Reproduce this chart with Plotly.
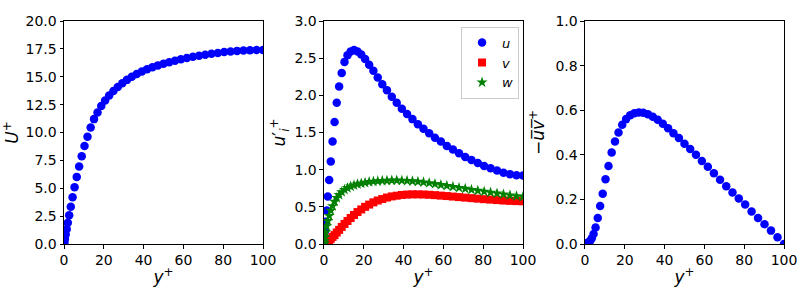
import plotly.graph_objects as go
from plotly.subplots import make_subplots

# wall-normal positions y+ of the profile points
y_plus = [0.0, 0.05, 0.21, 0.48, 0.86, 1.34, 1.92, 2.61, 3.41, 4.31,
          5.31, 6.41, 7.61, 8.91, 10.31, 11.81, 13.40, 15.08, 16.85, 18.72,
          20.66, 22.70, 24.82, 27.01, 29.29, 31.64, 34.07, 36.56, 39.12, 41.75,
          44.44, 47.19, 50.00, 52.86, 55.77, 58.73, 61.73, 64.78, 67.86, 70.97,
          74.12, 77.29, 80.49, 83.71, 86.95, 90.20, 93.46, 96.73, 100.0]

# mean velocity U+
U_plus = [0.0, 0.05, 0.21, 0.48, 0.85, 1.33, 1.90, 2.58, 3.35, 4.20,
          5.10, 6.02, 6.95, 7.88, 8.78, 9.62, 10.45, 11.20, 11.80, 12.38,
          12.88, 13.32, 13.72, 14.08, 14.42, 14.72, 15.00, 15.25, 15.47, 15.67,
          15.85, 16.02, 16.17, 16.31, 16.44, 16.56, 16.68, 16.79, 16.89, 16.98,
          17.07, 17.14, 17.21, 17.27, 17.32, 17.36, 17.38, 17.40, 17.40]

# rms velocity fluctuations
u_rms = [0.0, 0.02, 0.08, 0.17, 0.30, 0.45, 0.64, 0.86, 1.11, 1.38,
         1.64, 1.90, 2.12, 2.30, 2.45, 2.54, 2.59, 2.61, 2.59, 2.55,
         2.49, 2.41, 2.33, 2.24, 2.15, 2.07, 1.98, 1.90, 1.82, 1.75,
         1.68, 1.61, 1.55, 1.49, 1.43, 1.38, 1.32, 1.27, 1.22, 1.17,
         1.13, 1.09, 1.05, 1.02, 0.99, 0.96, 0.94, 0.925, 0.92]
v_rms = [0.0, 0.0, 0.003, 0.007, 0.013, 0.022, 0.035, 0.05, 0.07, 0.095,
         0.12, 0.155, 0.19, 0.23, 0.27, 0.31, 0.35, 0.39, 0.43, 0.465,
         0.50, 0.53, 0.56, 0.585, 0.605, 0.625, 0.64, 0.65, 0.66, 0.665,
         0.668, 0.668, 0.666, 0.662, 0.657, 0.651, 0.645, 0.638, 0.631, 0.624,
         0.617, 0.61, 0.603, 0.597, 0.591, 0.585, 0.58, 0.577, 0.575]
w_rms = [0.0, 0.01, 0.04, 0.09, 0.16, 0.24, 0.31, 0.38, 0.45, 0.51,
         0.57, 0.62, 0.66, 0.70, 0.73, 0.755, 0.775, 0.79, 0.805, 0.815,
         0.825, 0.835, 0.84, 0.845, 0.85, 0.852, 0.855, 0.855, 0.853, 0.85,
         0.845, 0.838, 0.83, 0.82, 0.808, 0.795, 0.783, 0.77, 0.757, 0.744,
         0.73, 0.717, 0.705, 0.692, 0.68, 0.668, 0.655, 0.643, 0.635]

# Reynolds shear stress -uv+
uv = [0.0, 0.0, 0.0, 0.0003, 0.0015, 0.004, 0.008, 0.015, 0.026, 0.045,
      0.074, 0.117, 0.17, 0.225, 0.29, 0.35, 0.41, 0.46, 0.50, 0.535,
      0.56, 0.577, 0.586, 0.59, 0.589, 0.582, 0.571, 0.557, 0.539, 0.519,
      0.497, 0.475, 0.45, 0.426, 0.40, 0.372, 0.346, 0.317, 0.288, 0.259,
      0.231, 0.204, 0.177, 0.146, 0.117, 0.089, 0.06, 0.03, 0.0]

fig = make_subplots(rows=1, cols=3)

dot = dict(symbol="circle", size=8.5, color="#0000ff", line=dict(width=0))

fig.add_trace(go.Scatter(x=y_plus, y=U_plus, mode="markers", marker=dot,
                         showlegend=False), row=1, col=1)

fig.add_trace(go.Scatter(x=y_plus, y=u_rms, mode="markers", marker=dot,
                         name="<i>u</i>"), row=1, col=2)
fig.add_trace(go.Scatter(x=y_plus, y=v_rms, mode="markers", name="<i>v</i>",
                         marker=dict(symbol="square", size=8, color="#ff0000",
                                     line=dict(width=0))), row=1, col=2)
fig.add_trace(go.Scatter(x=y_plus, y=w_rms, mode="markers", name="<i>w</i>",
                         marker=dict(symbol="star", size=8.5, color="#008000",
                                     line=dict(width=0))), row=1, col=2)

fig.add_trace(go.Scatter(x=y_plus, y=uv, mode="markers", marker=dot,
                         showlegend=False), row=1, col=3)

axis_style = dict(showline=True, linecolor="black", linewidth=1, mirror=True,
                  ticks="outside", ticklen=3.5, tickcolor="black", tickwidth=1,
                  showgrid=False, zeroline=False, automargin=False,
                  tickfont=dict(size=14, color="black"))

label_font = dict(size=17, color="black")

domains = [[0.0, 0.2764], [0.3611, 0.6375], [0.7236, 1.0]]
for i, dom in enumerate(domains, start=1):
    fig.update_xaxes(axis_style, domain=dom, range=[0, 100], tick0=0, dtick=20,
                     title=dict(text="<i>y</i><sup>+</sup>", standoff=2,
                                font=label_font),
                     row=1, col=i)

fig.update_yaxes(axis_style, range=[0, 20], dtick=2.5, tickformat=".1f",
                 title=dict(text="<i>U</i><sup>+</sup>", standoff=4,
                            font=label_font), row=1, col=1)
fig.update_yaxes(axis_style, range=[0, 3], dtick=0.5, tickformat=".1f",
                 title=dict(text="<i>u</i>′<sub><i>i</i></sub><sup>+</sup>", standoff=4,
                            font=label_font), row=1, col=2)
fig.update_yaxes(axis_style, range=[0, 1], dtick=0.2, tickformat=".1f",
                 title=dict(text="−<i>u̅v̅</i><sup>+</sup>", standoff=6,
                            font=label_font), row=1, col=3)

fig.update_layout(
    width=800, height=287,
    margin=dict(l=64, r=16, t=21, b=43),
    plot_bgcolor="white", paper_bgcolor="white",
    font=dict(family="DejaVu Sans", color="black"),
    legend=dict(x=0.632, y=0.975, xanchor="right", yanchor="top",
                bordercolor="#cccccc", borderwidth=1, bgcolor="white",
                font=dict(size=13), itemwidth=30, tracegroupgap=0),
)

# page body has a default 8px margin; drop it so the figure sits at the corner
fig.write_html("out.html", config={"displayModeBar": False},
               post_script="document.body.style.margin = '0';")
